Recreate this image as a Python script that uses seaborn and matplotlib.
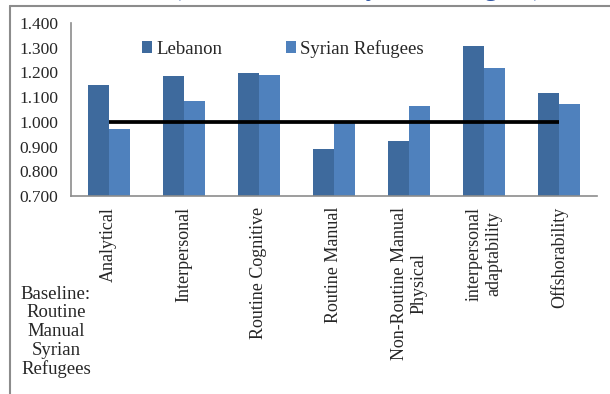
import numpy as np
import pandas as pd
import seaborn as sns
import matplotlib.pyplot as plt
from matplotlib.lines import Line2D

sns.set_style("white")
plt.rcParams['font.family'] = ['Liberation Serif', 'DejaVu Serif']

# Data
categories = ["Analytical", "Interpersonal", "Routine Cognitive", "Routine Manual",
              "Non-Routine Manual\nPhysical", "interpersonal\nadaptability", "Offshorability"]
lebanon = [1.150, 1.184, 1.198, 0.890, 0.921, 1.308, 1.117]
syrian = [0.970, 1.083, 1.190, 1.000, 1.065, 1.217, 1.071]
baseline = [1.0] * len(categories)
series_names = ["Lebanon", "Syrian Refugees"]
colors = ["#3E6A9D", "#4F81BD"]
yticks = [0.7, 0.8, 0.9, 1.0, 1.1, 1.2, 1.3, 1.4]

df = pd.DataFrame({
    "category": categories * 2,
    "value": lebanon + syrian,
    "series": [series_names[0]] * len(categories) + [series_names[1]] * len(categories),
})

fig = plt.figure(figsize=(6.1, 3.94), dpi=100)
ax = fig.add_axes([71 / 610, 1 - 196 / 394, 526 / 610, 173 / 394])

sns.barplot(data=df, x="category", y="value", hue="series", order=categories,
            hue_order=series_names, palette=colors, saturation=1, width=0.56, gap=0,
            edgecolor="none", linewidth=0, ax=ax)

# baseline line across categories
ax.plot(np.arange(len(categories)), baseline, color="black", lw=2.7, solid_capstyle="butt", zorder=5)

ax.set_ylim(0.7, 1.4)
ax.set_xlim(-0.5, len(categories) - 0.5)
ax.set_yticks(yticks)
ax.set_yticklabels([f"{v:.3f}" for v in yticks], fontsize=12.5)
ax.set_xticks(np.arange(len(categories)))
ax.set_xticklabels(categories, rotation=90, ha="center", va="top", fontsize=13,
                   multialignment="center")
ax.set_xticks(np.arange(-0.5, len(categories), 1), minor=True)
ax.tick_params(axis="x", which="major", length=0, pad=8)
ax.tick_params(axis="x", which="minor", length=5, color="#8c8c8c", width=1)
ax.tick_params(axis="y", length=4, color="#8c8c8c", width=1, pad=5)
ax.set_xlabel("")
ax.set_ylabel("")
for s in ["top", "right"]:
    ax.spines[s].set_visible(False)
for s in ["left", "bottom"]:
    ax.spines[s].set_color("#8c8c8c")
    ax.spines[s].set_linewidth(1.2)

ax.legend(loc="center left", bbox_to_anchor=(142 / 610, 1 - 48.6 / 394),
          bbox_transform=fig.transFigure, ncol=2, frameon=False, fontsize=13.5,
          handlelength=0.55, handleheight=0.55, handletextpad=0.2,
          columnspacing=3.4, borderpad=0, borderaxespad=0)

fig.text(56 / 610, 1 - 332 / 394, "Baseline:\nRoutine\nManual\nSyrian\nRefugees",
         ha="center", va="center", fontsize=13.5, linespacing=1.12)

# clipped title fragment at the very top (only descenders visible)
fig.text(172 / 610, 1 + 5.5 / 394, "(Relative to the Syrian Refugees)",
         ha="left", va="baseline", fontsize=20, color="#2F55A4")

# outer frame
fig.add_artist(Line2D([10 / 610, 10 / 610], [0, 1 - 6 / 394], color="#8c8c8c", lw=1.5))
fig.add_artist(Line2D([10 / 610, 1], [1 - 6 / 394, 1 - 6 / 394], color="#8c8c8c", lw=1.5))

fig.savefig("out.png", dpi=100)
